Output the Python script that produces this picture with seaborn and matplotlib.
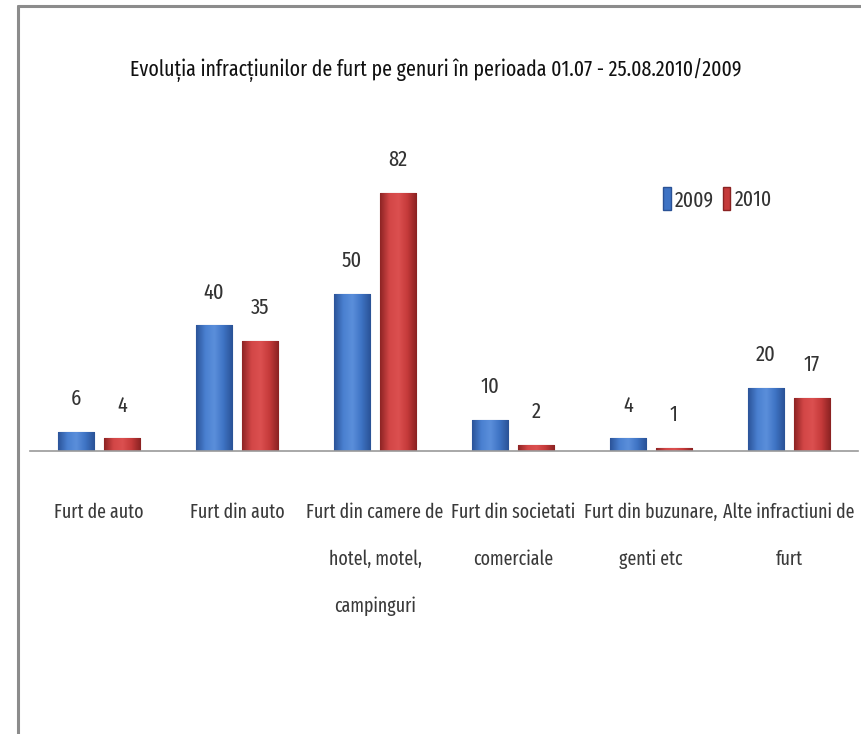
import numpy as np
import pandas as pd
import matplotlib
matplotlib.use("Agg")
import matplotlib.pyplot as plt
from matplotlib.colors import LinearSegmentedColormap
from matplotlib.lines import Line2D
from matplotlib.patches import Patch
import seaborn as sns

# ---- data ----
categories = [
    "Furt de auto",
    "Furt din auto",
    "Furt din camere de\nhotel, motel,\ncampinguri",
    "Furt din societati\ncomerciale",
    "Furt din buzunare,\ngenti etc",
    "Alte infractiuni de\nfurt",
]
values_2009 = [6, 40, 50, 10, 4, 20]
values_2010 = [4, 35, 82, 2, 1, 17]
series = ["2009", "2010"]
title = "Evoluția infracțiunilor de furt pe genuri în perioada 01.07 - 25.08.2010/2009"

df = pd.DataFrame({
    "cat": categories * 2,
    "an": [series[0]] * len(categories) + [series[1]] * len(categories),
    "val": values_2009 + values_2010,
})

sns.set_theme(style="white")
plt.rcParams["font.family"] = ["Fira Sans Extra Condensed", "DejaVu Sans"]

fig = plt.figure(figsize=(8.62, 7.34), dpi=100)
ax = fig.add_axes([30 / 862, 1 - 451 / 734, 828 / 862, 283 / 734])

blue, red = "#3E73C4", "#C53A3A"
sns.barplot(data=df, x="cat", y="val", hue="an", order=categories,
            hue_order=series, palette=[blue, red], width=0.667, gap=0.2,
            ax=ax, edgecolor="none", legend=False)

ax.set_xlim(-0.5, 5.5)
ax.set_ylim(0, 90)

# gradient fill of the bars
grads = [
    LinearSegmentedColormap.from_list("b", ["#2B5499", "#4A80D0", "#5B8FDB", "#3E73C4", "#2A5296"]),
    LinearSegmentedColormap.from_list("r", ["#8E2424", "#D24646", "#DC5050", "#C53A3A", "#8A2222"]),
]
edges = ["#2A5296", "#8A2222"]
prof = np.linspace(0, 1, 64).reshape(1, -1)
for cont, cmap, ec in zip(ax.containers, grads, edges):
    for p in cont.patches:
        x0, y0, w, h = p.get_x(), p.get_y(), p.get_width(), p.get_height()
        im = ax.imshow(prof, extent=[x0, x0 + w, y0, y0 + h], cmap=cmap,
                       aspect="auto", zorder=p.get_zorder() + 0.1,
                       interpolation="bicubic")
        im.set_clip_path(p)
        p.set_edgecolor(ec)
        p.set_linewidth(0.8)
    ax.bar_label(cont, padding=16, fontsize=16, color="#333333")

ax.set_xlim(-0.5, 5.5)
ax.set_ylim(0, 90)

for s in ["top", "right", "left"]:
    ax.spines[s].set_visible(False)
ax.spines["bottom"].set_color("#9A9A9A")
ax.spines["bottom"].set_linewidth(1.2)
ax.set_yticks([])
ax.set_xlabel("")
ax.set_ylabel("")
ax.tick_params(axis="x", length=0, pad=37, labelsize=14, labelcolor="#3A3A3A")
for lab in ax.get_xticklabels():
    lab.set_linespacing(2.75)
    lab.set_horizontalalignment("center")

# legend
handles = [Patch(facecolor=blue, edgecolor=edges[0]), Patch(facecolor=red, edgecolor=edges[1])]
fig.legend(handles, series, loc="center left", bbox_to_anchor=(663 / 862, 1 - 199 / 734),
           ncol=2, frameon=False, fontsize=15.5, handlelength=0.35, handleheight=1.25,
           handletextpad=0.2, columnspacing=0.4, borderpad=0, borderaxespad=0,
           labelcolor="#333333")

fig.text(0.505, 1 - 70 / 734, title, ha="center", va="center", fontsize=15.5,
         color="#111111")

# outer frame lines (left and top)
fig.add_artist(Line2D([18 / 862, 18 / 862], [0, 1 - 5.5 / 734], color="#8C8C8C", lw=2.2,
                      transform=fig.transFigure))
fig.add_artist(Line2D([18 / 862, 1], [1 - 5.5 / 734, 1 - 5.5 / 734], color="#8C8C8C", lw=2.2,
                      transform=fig.transFigure))

fig.savefig("out.png", dpi=100)
